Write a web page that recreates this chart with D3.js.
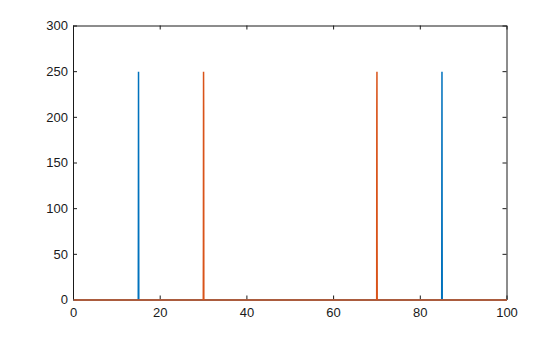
<!DOCTYPE html>
<html>
<head>
<meta charset="utf-8">
<script src="https://cdn.jsdelivr.net/npm/d3@7"></script>
<style>
body { margin: 0; background: #fff; }
svg { display: block; }
.tick text { font-family: "Liberation Sans", Arial, sans-serif; font-size: 13px; fill: #1a1a1a; }
</style>
</head>
<body>
<svg width="560" height="337"></svg>
<script>
// series samples
var blueX = [0, 14.94, 14.97, 15, 15.03, 15.06, 84.94, 84.97, 85, 85.03, 85.06, 100];
var blueY = [0, 0, 93, 250, 122, 0, 0, 122, 250, 93, 0, 0];
var orangeX = [0, 29.94, 29.97, 30, 30.03, 30.06, 69.94, 69.97, 70, 70.03, 70.06, 100];
var orangeY = [0, 0, 63, 250, 207, 0, 0, 207, 250, 63, 0, 0];
var xTicks = [0, 20, 40, 60, 80, 100];
var yTicks = [0, 50, 100, 150, 200, 250, 300];

var svg = d3.select('svg');
var m = {left: 73, right: 53.5, top: 25.5, bottom: 37.5};
var w = 560 - m.left - m.right, h = 337 - m.top - m.bottom;

var x = d3.scaleLinear().domain([0, 100]).range([0, w]);
var y = d3.scaleLinear().domain([0, 300]).range([h, 0]);

var g = svg.append('g').attr('transform', 'translate(' + m.left + ',' + m.top + ')');

// axes: ticks point inward, mirrored on top and right
function style(a) {
    a.select('.domain').attr('stroke', '#1a1a1a');
    a.selectAll('.tick line').attr('stroke', '#1a1a1a');
}
g.append('g').attr('transform', 'translate(0,' + h + ')')
    .call(d3.axisBottom(x).tickValues(xTicks).tickSizeInner(-4).tickSizeOuter(0).tickPadding(8))
    .call(style);
g.append('g')
    .call(d3.axisLeft(y).tickValues(yTicks).tickSizeInner(-4).tickSizeOuter(0).tickPadding(5))
    .call(style);
g.append('g')
    .call(d3.axisTop(x).tickValues(xTicks).tickSizeInner(-4).tickSizeOuter(0).tickFormat(''))
    .call(style);
g.append('g').attr('transform', 'translate(' + w + ',0)')
    .call(d3.axisRight(y).tickValues(yTicks).tickSizeInner(-4).tickSizeOuter(0).tickFormat(''))
    .call(style);

var line = d3.line().x(function(d) { return x(d[0]); }).y(function(d) { return y(d[1]); });

// same half-pixel offset as the axis lines so the baseline covers the x axis
var lines = g.append('g').attr('transform', 'translate(0.5,0.5)');
var series = [
    {xs: blueX, ys: blueY, color: '#0072BD'},
    {xs: orangeX, ys: orangeY, color: '#D95319'}
];
series.forEach(function(s) {
    lines.append('path')
        .datum(d3.zip(s.xs, s.ys))
        .attr('fill', 'none')
        .attr('stroke', s.color)
        .attr('stroke-width', 1.5)
        .attr('d', line);
});
</script>
</body>
</html>
